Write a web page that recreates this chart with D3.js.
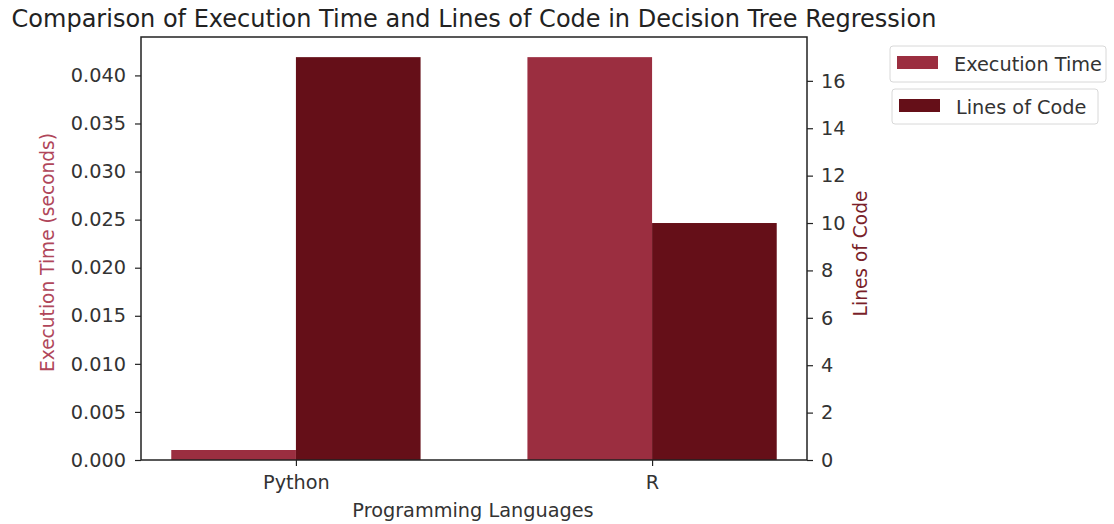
<!DOCTYPE html>
<html><head><meta charset="utf-8">
<script src="https://cdn.jsdelivr.net/npm/d3@7"></script>
<style>body{margin:0;background:#fff;} text{font-family:"DejaVu Sans",sans-serif;}</style>
</head><body>
<svg id="c" width="1114" height="524"></svg>
<script>
const languages = ["Python", "R"];
const executionTime = [0.00104, 0.0419];
const linesOfCode = [17, 10];
const leftTicks = [0, 0.005, 0.010, 0.015, 0.020, 0.025, 0.030, 0.035, 0.040];
const rightTicks = [0, 2, 4, 6, 8, 10, 12, 14, 16];
const seriesNames = ["Execution Time", "Lines of Code"];

const colExec = "#9b2e40", colLoc = "#650f18";
const svg = d3.select("#c");
const L = 141, R = 807, T = 37, B = 460;
const barW = 0.35;

const x = d3.scaleLinear().domain([-0.435, 1.435]).range([L, R]);
const yL = d3.scaleLinear().domain([0, d3.max(executionTime) * 1.05]).range([B, T]);
const yR = d3.scaleLinear().domain([0, d3.max(linesOfCode) * 1.05]).range([B, T]);

const g = svg.append("g");
g.selectAll("rect.e").data(executionTime).join("rect")
  .attr("x", (d, i) => x(i - barW)).attr("width", (d, i) => x(i) - x(i - barW))
  .attr("y", d => yL(d)).attr("height", d => B - yL(d)).attr("fill", colExec);
g.selectAll("rect.l").data(linesOfCode).join("rect")
  .attr("x", (d, i) => x(i)).attr("width", (d, i) => x(i + barW) - x(i))
  .attr("y", d => yR(d)).attr("height", d => B - yR(d)).attr("fill", colLoc);

// frame
svg.append("rect").attr("x", L).attr("y", T).attr("width", R - L).attr("height", B - T)
  .attr("fill", "none").attr("stroke", "#222").attr("stroke-width", 1.5);

const fs = 19.3;
const axL = svg.append("g").attr("transform", `translate(${L},0)`)
  .call(d3.axisLeft(yL).tickValues(leftTicks).tickFormat(d3.format(".3f")).tickSize(6).tickPadding(9));
const axR = svg.append("g").attr("transform", `translate(${R},0)`)
  .call(d3.axisRight(yR).tickValues(rightTicks).tickFormat(d3.format("d")).tickSize(6).tickPadding(8));
const axB = svg.append("g").attr("transform", `translate(0,${B})`)
  .call(d3.axisBottom(x).tickValues([0, 1]).tickFormat((d) => languages[d]).tickSize(6).tickPadding(9));
[axL, axR, axB].forEach(a => {
  a.select(".domain").remove();
  a.selectAll("line").attr("stroke", "#222").attr("stroke-width", 1.2);
  a.selectAll("text").attr("font-size", fs).attr("fill", "#333").style("font-family", "DejaVu Sans");
});

svg.append("text").attr("x", (L + R) / 2).attr("y", 27).attr("text-anchor", "middle")
  .attr("font-size", 24).attr("fill", "#222").text("Comparison of Execution Time and Lines of Code in Decision Tree Regression");

svg.append("text").attr("transform", `translate(54,${(T + B) / 2 + 4}) rotate(-90)`).attr("text-anchor", "middle")
  .attr("font-size", 18.6).attr("fill", "#b0465a").text("Execution Time (seconds)");
svg.append("text").attr("transform", `translate(867,${(T + B) / 2 + 5}) rotate(-90)`).attr("text-anchor", "middle")
  .attr("font-size", 18.6).attr("fill", "#7a1f2a").text("Lines of Code");
svg.append("text").attr("x", 473).attr("y", 517).attr("text-anchor", "middle")
  .attr("font-size", fs).attr("fill", "#333").text("Programming Languages");

// legends (two separate boxes)
const legBoxes = [{x: 890, y: 46, w: 216, h: 36}, {x: 892, y: 89, w: 206, h: 35}];
const legCols = [colExec, colLoc];
seriesNames.forEach((n, i) => {
  const b = legBoxes[i];
  const lg = svg.append("g");
  lg.append("rect").attr("x", b.x).attr("y", b.y).attr("width", b.w).attr("height", b.h)
    .attr("rx", 3).attr("fill", "#fff").attr("stroke", "#d8d8d8");
  lg.append("rect").attr("x", b.x + 7).attr("y", b.y + 10).attr("width", 41).attr("height", 13).attr("fill", legCols[i]);
  lg.append("text").attr("x", b.x + 64).attr("y", b.y + 25).attr("font-size", fs).attr("fill", "#333").text(n);
});
</script>
</body></html>
